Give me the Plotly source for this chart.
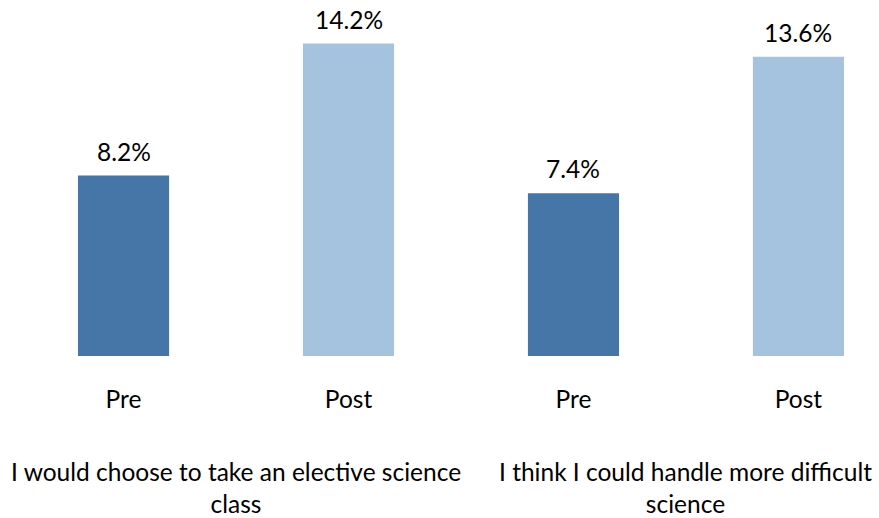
import plotly.graph_objects as go

# Survey results: share of students agreeing, before and after the program
phases = ["Pre", "Post", "Pre", "Post"]
values = [8.2, 14.2, 7.4, 13.6]
statements = [
    "I would choose to take an elective science<br>class",
    "I think I could handle more difficult<br>science",
]
bar_colors = ["#4675A7", "#A5C2DE", "#4675A7", "#A5C2DE"]

FONT = "Lato, 'Open Sans', sans-serif"
FSIZE = 24.5
positions = list(range(len(values)))

fig = go.Figure(
    go.Bar(
        x=positions,
        y=values,
        marker=dict(color=bar_colors, line=dict(width=0)),
        width=0.405,
        hoverinfo="skip",
    )
)

# value labels above each bar
for p, v in zip(positions, values):
    fig.add_annotation(
        x=p, y=v, text=f"{v}%", showarrow=False,
        yanchor="bottom", yshift=8,
        font=dict(family=FONT, size=FSIZE, color="#000000"),
    )

# statement labels centred under each Pre/Post pair
for i, s in enumerate(statements):
    fig.add_annotation(
        x=2 * i + 0.5, y=0, xref="x", yref="y",
        text=s, showarrow=False, yanchor="top", yshift=-99,
        align="center",
        font=dict(family=FONT, size=FSIZE, color="#000000"),
    )

fig.update_layout(
    width=879, height=518,
    margin=dict(l=0, r=0, t=0, b=162),
    paper_bgcolor="white", plot_bgcolor="white",
    showlegend=False,
    font=dict(family=FONT, size=FSIZE, color="#000000"),
    xaxis=dict(
        range=[-0.549, 3.358],
        tickvals=positions, ticktext=phases,
        ticks="", showline=False, showgrid=False, zeroline=False,
        ticklabelstandoff=26,
        tickfont=dict(family=FONT, size=FSIZE, color="#000000"),
    ),
    yaxis=dict(
        range=[0, 16.18], visible=False,
        showgrid=False, zeroline=False,
    ),
)

fig.write_html("out.html")
